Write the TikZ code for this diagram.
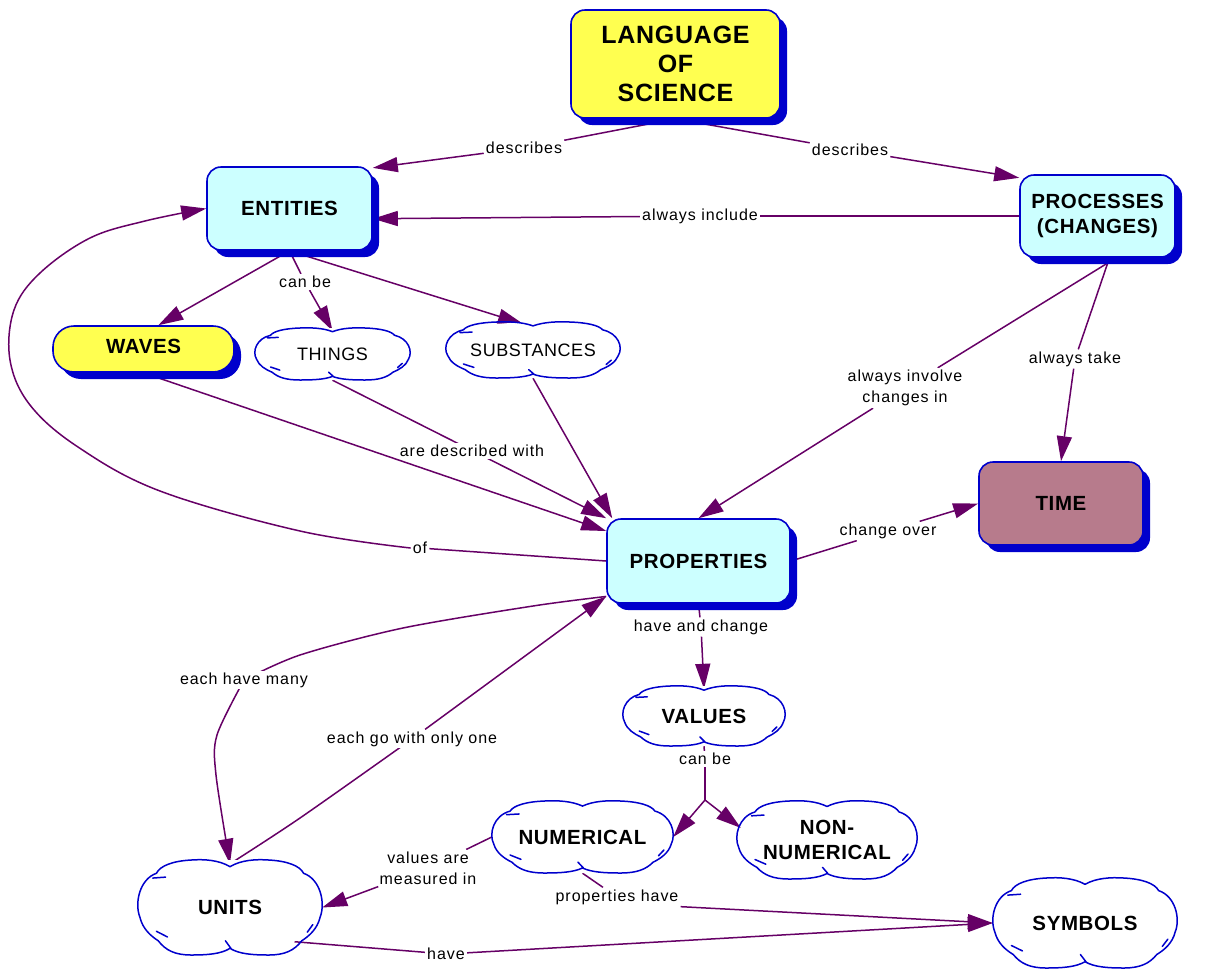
\documentclass[tikz,border=0pt]{standalone}
\usepackage{fontspec}
\setmainfont{Liberation Sans}
\newfontfamily\lblfont[LetterSpace=6]{Liberation Sans}
\newfontfamily\ttlfont[LetterSpace=3]{Liberation Sans}
\usetikzlibrary{shapes.geometric,shadows,arrows.meta}

\definecolor{cmapblue}{RGB}{0,0,204}
\definecolor{linkpurple}{RGB}{102,0,102}
\definecolor{yellowfill}{RGB}{255,255,80}
\definecolor{cyanfill}{RGB}{204,255,255}
\definecolor{timefill}{RGB}{183,123,140}

\pgfdeclarelayer{edges}
\pgfsetlayers{edges,main}

% hand-drawn cloud outline around a node: name, half width, half height
\newcommand{\cloudline}[3]{%
  \draw[cloudstroke, shift={(#1.center)}, x=#2pt, y=#3pt]
    (0,0.86) .. controls (0.12,1.0) and (0.28,1.02) .. (0.42,1.0)
    .. controls (0.62,0.98) and (0.76,0.88) .. (0.8,0.72)
    .. controls (0.98,0.6) and (1.04,0.1) .. (0.98,-0.2)
    .. controls (0.95,-0.45) and (0.86,-0.6) .. (0.78,-0.7)
    .. controls (0.7,-0.9) and (0.6,-1.0) .. (0.42,-1.0)
    .. controls (0.25,-1.0) and (0.1,-0.98) .. (0,-0.86)
    .. controls (-0.1,-0.98) and (-0.25,-1.0) .. (-0.42,-1.0)
    .. controls (-0.6,-1.0) and (-0.7,-0.9) .. (-0.78,-0.7)
    .. controls (-0.86,-0.6) and (-0.95,-0.45) .. (-0.98,-0.2)
    .. controls (-1.04,0.1) and (-0.98,0.6) .. (-0.8,0.72)
    .. controls (-0.76,0.88) and (-0.62,0.98) .. (-0.42,1.0)
    .. controls (-0.28,1.02) and (-0.12,1.0) .. (0,0.86) -- cycle
    (-0.84,0.62) -- (-0.7,0.64)
    (-0.8,-0.5) -- (-0.68,-0.62)
    (0.9,-0.36) -- (0.84,-0.52)
    (0.01,-0.86) -- (-0.05,-0.7);}

\begin{document}
\begin{tikzpicture}[x=1pt,y=1pt,
  concept/.style={draw=cmapblue, line width=1.6pt, rounded corners=14pt,
    align=center, inner sep=0pt,
    font=\ttlfont\bfseries\fontsize{20.5}{25}\selectfont,
    general shadow={fill=cmapblue, shadow xshift=7pt, shadow yshift=-7pt}},
  cloudnode/.style={shape=ellipse, fill=white, align=center, inner sep=0pt},
  cloudbold/.style={cloudnode, font=\ttlfont\bfseries\fontsize{20.5}{25}\selectfont},
  cloudplain/.style={cloudnode, font=\ttlfont\fontsize{18}{22}\selectfont},
  cloudstroke/.style={draw=cmapblue, line width=1.5pt, line join=round, line cap=round},
  lbl/.style={fill=white, inner sep=2pt, align=center,
    font=\lblfont\fontsize{16}{21}\selectfont},
  link/.style={draw=linkpurple, line width=1.5pt},
  arr/.style={link, -{Triangle[length=25pt,width=15pt]}},
]
\path[use as bounding box] (0,0) rectangle (1206,-970);

% concepts
\node[concept, fill=yellowfill, minimum width=209pt, minimum height=108pt,
  font=\ttlfont\bfseries\fontsize{25}{29}\selectfont] (lang) at (675.5,-64) {LANGUAGE\\OF\\SCIENCE};
\node[concept, fill=cyanfill, minimum width=165pt, minimum height=83pt] (ent) at (289.5,-208.5) {ENTITIES};
\node[concept, fill=cyanfill, minimum width=155pt, minimum height=82pt] (proc) at (1097.5,-216) {PROCESSES\\(CHANGES)};
\node[concept, fill=yellowfill, rounded corners=21pt, minimum width=181pt, minimum height=46pt] (waves) at (143.5,-349) {\raisebox{6pt}{WAVES}};
\node[concept, fill=timefill, minimum width=164pt, minimum height=83pt] (time) at (1061,-503.5) {TIME};
\node[concept, fill=cyanfill, minimum width=183pt, minimum height=84pt] (prop) at (698.5,-561) {PROPERTIES};

\node[cloudplain, minimum width=155pt, minimum height=52pt] (things) at (332.5,-354) {THINGS};
\node[cloudplain, minimum width=174pt, minimum height=56pt] (subst) at (533,-350) {SUBSTANCES};
\node[cloudbold, minimum width=162pt, minimum height=60pt] (values) at (704,-716) {VALUES};
\node[cloudbold, minimum width=181pt, minimum height=72pt] (num) at (582.5,-837) {NUMERICAL};
\node[cloudbold, minimum width=180pt, minimum height=78pt] (nonnum) at (827,-840) {NON-\\NUMERICAL};
\node[cloudbold, minimum width=184pt, minimum height=95pt] (units) at (230,-907.5) {UNITS};
\node[cloudbold, minimum width=184pt, minimum height=90pt] (symb) at (1085,-923) {SYMBOLS};

\cloudline{things}{77.5}{26}
\cloudline{subst}{87}{28}
\cloudline{values}{81}{30}
\cloudline{num}{90.5}{36}
\cloudline{nonnum}{90}{39}
\cloudline{units}{92}{47.5}
\cloudline{symb}{92}{45}

% linking phrases
\node[lbl] (d1) at (524,-148) {describes};
\node[lbl] (d2) at (850,-150) {describes};
\node[lbl] (ai) at (700,-216) {always include};
\node[lbl] (cb1) at (305,-282) {can be};
\node[lbl] (adw) at (472,-451) {are described with};
\node[lbl] (aic) at (905,-388) {always involve\\changes in};
\node[lbl] (at) at (1075,-359) {always take};
\node[lbl] (co) at (888,-531) {change over};
\node[lbl] (of) at (420,-548) {of};
\node[lbl] (hac) at (701,-627) {have and change};
\node[lbl] (ehm) at (244,-680) {each have many};
\node[lbl] (ego) at (412,-739) {each go with only one};
\node[lbl] (cb2) at (705,-759) {can be};
\node[lbl] (vam) at (428,-868) {values are\\measured in};
\node[lbl] (ph) at (617,-897) {properties have};
\node[lbl] (hv) at (446,-954) {have};
\coordinate (fork) at (705,-800);

% connectors
\begin{pgfonlayer}{edges}
\draw[link] (lang.south) -- (d1);
\draw[arr] (d1) -- (ent.26);
\draw[link] (lang.south) -- (d2);
\draw[arr] (d2) -- (proc.154);
\draw[link] (proc.west) -- (ai);
\draw[arr] (ai) -- (ent.-7);
\draw[arr] (ent.south) -- (waves.58);
\draw[link] (ent.south) -- (cb1);
\draw[arr] (cb1) -- ([yshift=-3pt]things.north);
\draw[arr] (ent.south) -- ([xshift=-10pt,yshift=-2pt]subst.north);
\draw[arr] (waves.south) -- (prop.162);
\draw[arr] (things.south) -- (prop.north west);
\draw[arr] (subst.south) -- ([xshift=6pt]prop.north west);
\draw[link] (proc.-66) -- (aic);
\draw[arr] (aic) -- (prop.north);
\draw[link] (proc.-74) -- (at);
\draw[arr] (at) -- (time.north);
\draw[link] (prop.east) -- (co);
\draw[arr] (co) -- (time.west);
\draw[link] (prop.west) -- (of);
\draw[arr] plot[smooth, tension=0.6] coordinates {(of.west) (300,-531) (160,-491) (78,-447) (30,-405) (10,-360) (14,-310) (40,-273) (90,-238) (145,-221) (ent.west)};
\draw[link] plot[smooth] coordinates {(prop.201) (533,-606) (403,-628) (300,-655) (ehm.center)};
\draw[arr] plot[smooth] coordinates {(ehm.center) (217,-735) (216,-775) ([yshift=-4pt]units.north)};
\draw[link] plot[smooth] coordinates {([yshift=-4pt]units.north) (300,-818) (ego.center)};
\draw[arr] (ego) -- (prop.201);
\draw[link] (prop.south) -- (hac);
\draw[arr] (hac) -- ([yshift=-3pt]values.north);
\draw[link] (values.south) -- (cb2);
\draw[link] (cb2) -- (fork);
\draw[arr] (fork) -- (num.east);
\draw[arr] (fork) -- (nonnum.172);
\draw[link] (num.west) -- (vam);
\draw[arr] (vam) -- (units.east);
\draw[link] (num.south) -- (ph);
\draw[arr] (ph.south east) -- (symb.west);
\draw[link] (units.-28) -- (hv);
\draw[arr] (hv) -- (symb.west);
\end{pgfonlayer}
\end{tikzpicture}
\end{document}
